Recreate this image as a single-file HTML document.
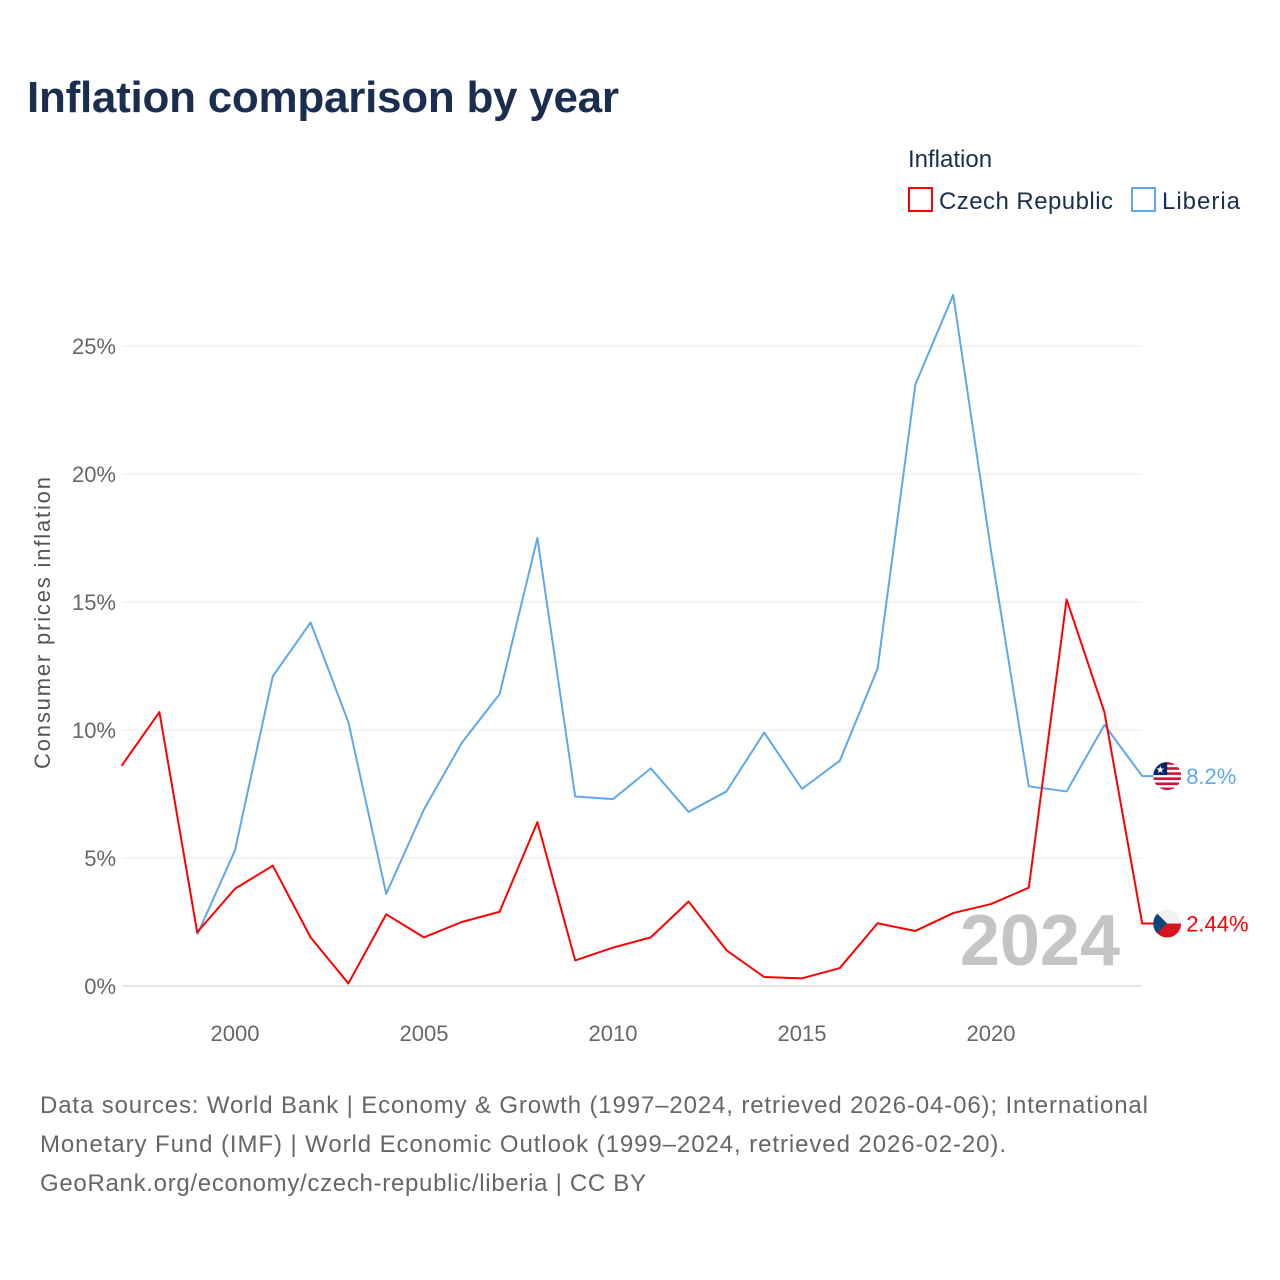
<!DOCTYPE html>
<html><head><meta charset="utf-8"><style>
body{margin:0;background:#fff;font-family:"Liberation Sans",sans-serif}
#wrap{position:relative;width:1280px;height:1280px;overflow:hidden}
</style></head><body>
<div id="wrap">
<svg id="chart" width="1280" height="1280" style="position:absolute;left:0;top:0">
<defs>
<clipPath id="clipLib"><circle id="cl1" cx="0" cy="0" r="14"/></clipPath>
<clipPath id="clipCz"><circle id="cl2" cx="0" cy="0" r="14"/></clipPath>
</defs>
<text x="27" y="112" font-size="44" font-weight="bold" fill="#1a2e50" textLength="592">Inflation comparison by year</text>
<text x="908" y="167" font-size="24" fill="#1a2e50">Inflation</text>
<g><rect x="909" y="188" width="23" height="23" fill="none" stroke="#ff0000" stroke-width="2"/><text x="939" y="209" font-size="24" fill="#1a2e50" textLength="174">Czech Republic</text></g>
<g><rect x="1132" y="188" width="23" height="23" fill="none" stroke="#5ea8ea" stroke-width="2"/><text x="1162" y="209" font-size="24" fill="#1a2e50" textLength="78">Liberia</text></g>
<text transform="translate(50,623) rotate(-90)" text-anchor="middle" font-size="22" fill="#555" textLength="292">Consumer prices inflation</text>
<g id="grid"></g><g id="lines"></g>
<text x="1120" y="965" text-anchor="end" font-size="72" font-weight="bold" fill="#c4c4c4">2024</text>
<text x="40" y="1113" font-size="24" fill="#666" textLength="1108">Data sources: World Bank | Economy &amp; Growth (1997–2024, retrieved 2026-04-06); International</text>
<text x="40" y="1152" font-size="24" fill="#666" textLength="966">Monetary Fund (IMF) | World Economic Outlook (1999–2024, retrieved 2026-02-20).</text>
<text x="40" y="1191" font-size="24" fill="#666" textLength="606">GeoRank.org/economy/czech-republic/liberia | CC BY</text>
</svg>
</div>
<script>
const czechYears=[1997,1998,1999,2000,2001,2002,2003,2004,2005,2006,2007,2008,2009,2010,2011,2012,2013,2014,2015,2016,2017,2018,2019,2020,2021,2022,2023,2024];
const czechValues=[8.6,10.7,2.1,3.8,4.7,1.9,0.1,2.8,1.9,2.5,2.9,6.4,1.0,1.5,1.9,3.3,1.4,0.35,0.3,0.7,2.45,2.15,2.85,3.2,3.84,15.1,10.7,2.44];
const liberiaYears=[1999,2000,2001,2002,2003,2004,2005,2006,2007,2008,2009,2010,2011,2012,2013,2014,2015,2016,2017,2018,2019,2020,2021,2022,2023,2024];
const liberiaValues=[2.0,5.3,12.1,14.2,10.3,3.6,6.9,9.5,11.4,17.5,7.4,7.3,8.5,6.8,7.6,9.9,7.7,8.8,12.4,23.5,27.0,17.0,7.8,7.6,10.2,8.2];
const yTicks=[0,5,10,15,20,25];
const xTicks=[2000,2005,2010,2015,2020];
const NS="http://www.w3.org/2000/svg";
const x=yr=>121.6+(yr-1997)*37.8;
const y=v=>986-v*25.6;
const grid=document.getElementById('grid'),lines=document.getElementById('lines');
function mk(tag,attrs,parent){const e=document.createElementNS(NS,tag);for(const k in attrs)e.setAttribute(k,attrs[k]);parent.appendChild(e);return e;}
yTicks.forEach(t=>{
 const l=mk('line',{x1:122,x2:1142,y1:y(t),y2:y(t),stroke:t===0?'#ccc':'#e8e8e8','stroke-width':1},grid);
 
 
 const tx=mk('text',{x:116,y:y(t)+8,'text-anchor':'end','font-size':22,fill:'#666'},grid);
 tx.textContent=t+'%';
 
 
});
xTicks.forEach(t=>{
 const tx=mk('text',{x:x(t),y:1041,'text-anchor':'middle','font-size':22,fill:'#666'},grid);
 tx.textContent=t;
 
 
});
function flag(cx,cy,kind,g){
 if(kind==='liberia'){
  document.getElementById('cl1').setAttribute('cx',cx);document.getElementById('cl1').setAttribute('cy',cy);
  const fg=mk('g',{'clip-path':'url(#clipLib)'},g);
  mk('rect',{x:cx-14,y:cy-14,width:28,height:28,fill:'#fff'},fg);
  for(let i=0;i<6;i++) mk('rect',{x:cx-14,y:cy-14+i*5.1,width:28,height:2.6,fill:'#d21034'},fg);
  mk('rect',{x:cx-14,y:cy-14,width:14,height:13,fill:'#002868'},fg);
  const s=mk('text',{x:cx-7,y:cy-3,'text-anchor':'middle','font-size':10,fill:'#fff'},fg);s.textContent='★';
 }else{
  document.getElementById('cl2').setAttribute('cx',cx);document.getElementById('cl2').setAttribute('cy',cy);
  const fg=mk('g',{'clip-path':'url(#clipCz)'},g);
  mk('rect',{x:cx-14,y:cy-14,width:28,height:14,fill:'#f2f2f2'},fg);
  mk('rect',{x:cx-14,y:cy,width:28,height:14,fill:'#d7141a'},fg);
  mk('polygon',{points:`${cx-14},${cy-14} ${cx},${cy} ${cx-14},${cy+14}`,fill:'#11457e'},fg);
 }
}
function series(years,vals,color,name,label){
 const pts=years.map((yr,i)=>x(yr)+','+y(vals[i]));
 const last=vals[vals.length-1];
 pts.push((x(2024)+12)+','+y(last));
 const p=mk('polyline',{points:pts.join(' '),fill:'none',stroke:color,'stroke-width':2,'stroke-linejoin':'round'},lines);
 
 
 const g=mk('g',{},lines);
 
 
 flag(x(2024)+25,y(last),name,g);
 const t=mk('text',{x:x(2024)+44,y:y(last)+8,'font-size':22,fill:color},lines);
 t.textContent=label;
 
 
}
series(liberiaYears,liberiaValues,'#5ea8ea','liberia','8.2%');
series(czechYears,czechValues,'#ff0000','czech','2.44%');
</script>
</body></html>
